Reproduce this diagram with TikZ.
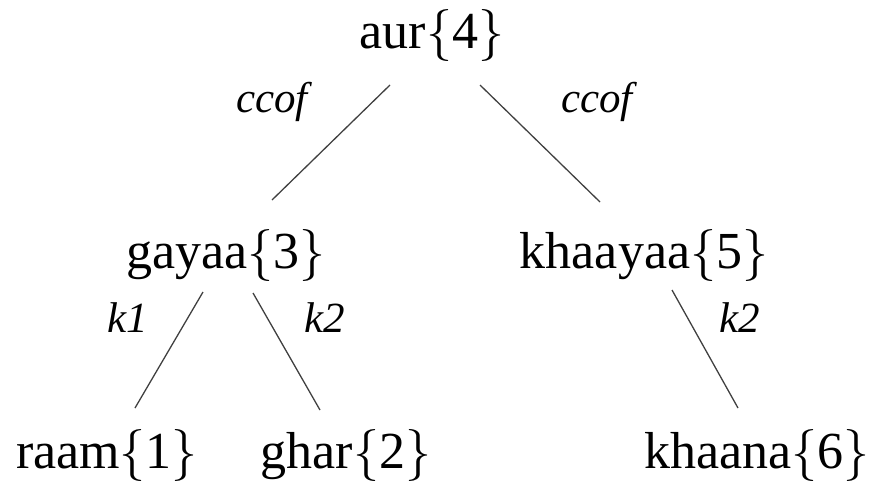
\RequirePackage{fix-cm}
\documentclass[tikz,border=0pt]{standalone}
\usepackage{fontspec}
\setmainfont{Liberation Serif}
\DeclareMathSizes{52}{52}{37}{26}
\begin{document}
\begin{tikzpicture}[x=1pt,y=-1pt,
  word/.style={anchor=base,inner sep=0pt,font=\fontsize{52}{62}\selectfont},
  rel/.style={anchor=base,inner sep=0pt,font=\fontsize{43}{52}\selectfont\itshape},
  arc/.style={draw=black!75,line width=1.3pt}]
\useasboundingbox (0,0) rectangle (876,485);
% words of the sentence, with their positions in braces
\node[word] (aur)     at (432,48)  {aur$\{$4$\}$};
\node[word] (gayaa)   at (226,268) {gayaa$\{$3$\}$};
\node[word] (khaayaa) at (644,268) {khaayaa$\{$5$\}$};
\node[word] (raam)    at (107,468) {raam$\{$1$\}$};
\node[word] (ghar)    at (346,468) {ghar$\{$2$\}$};
\node[word] (khaana)  at (757,468) {khaana$\{$6$\}$};
% dependency arcs
\draw[arc] ([shift={(-42,37)}]aur.base) -- ([shift={(46,-68)}]gayaa.base);
\draw[arc] ([shift={(48,37)}]aur.base) -- ([shift={(-44,-66)}]khaayaa.base);
\draw[arc] ([shift={(-23,24)}]gayaa.base) -- ([shift={(28,-60)}]raam.base);
\draw[arc] ([shift={(27,25)}]gayaa.base) -- ([shift={(-26,-58)}]ghar.base);
\draw[arc] ([shift={(28,22)}]khaayaa.base) -- ([shift={(-19,-60)}]khaana.base);
% relation labels
\node[rel] (l1) at (272,112) {ccof};
\node[rel] (l2) at (597,112) {ccof};
\node[rel] (l3) at (128,332) {k1};
\node[rel] (l4) at (325,332) {k2};
\node[rel] (l5) at (740,332) {k2};
\end{tikzpicture}
\end{document}
